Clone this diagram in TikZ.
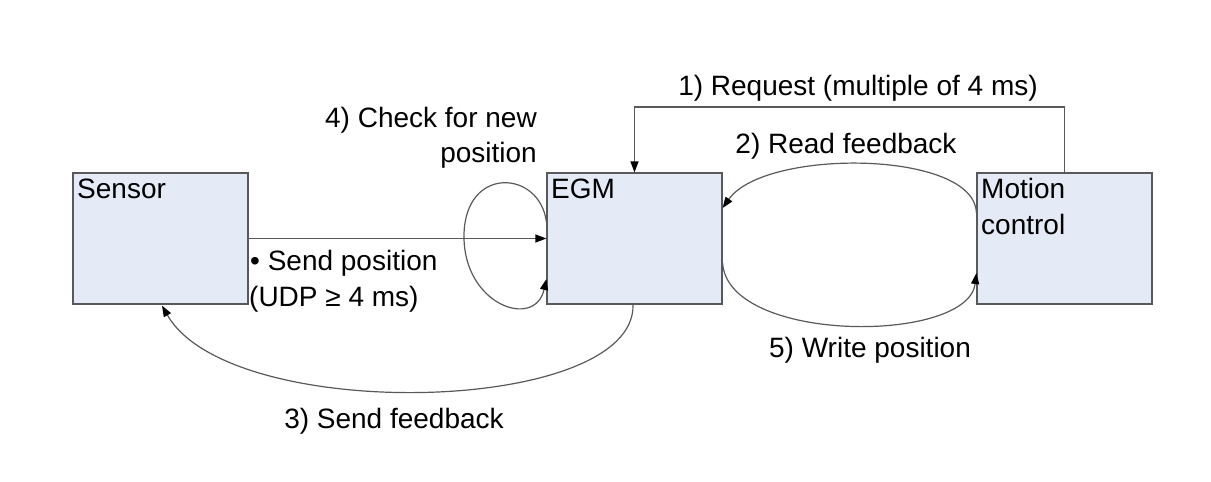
\documentclass[tikz,border=0pt]{standalone}
\usepackage{fontspec}
\setmainfont{Liberation Sans}
\usetikzlibrary{arrows.meta,calc}
\begin{document}
\begin{tikzpicture}[x=1pt,y=-1pt,
  box/.style={draw=black!65,line width=1.2pt,fill=boxfill,minimum width=175pt,minimum height=131pt,inner sep=0pt},
  conn/.style={draw=black!65,line width=1.2pt,-{Triangle[length=11pt,width=8pt,color=black,fill=black]}},
  lbl/.style={font=\fontsize{28}{36}\selectfont,inner sep=0pt,text=black}]
\definecolor{boxfill}{RGB}{228,235,246}
\useasboundingbox (0,0) rectangle (1211,482);
\node[box] (sensor) at (160.5,238.5) {};
\node[box] (egm) at (634.5,238.5) {};
\node[box] (mc) at (1064.5,238.5) {};
\node[lbl,anchor=base west] (tsensor) at (77,198) {Sensor};
\node[lbl,anchor=base west] (tegm) at (551,198) {EGM};
\node[lbl,anchor=base west] (tmc1) at (981,198) {Motion};
\node[lbl,anchor=base west] (tmc2) at (981,234) {control};
% 1) request
\coordinate (rq) at (0,107);
\draw[conn] (mc.north) -- (mc.north |- rq) -| (egm.north);
\node[lbl,anchor=base] (l1) at (858,95) {1) Request (multiple of 4 ms)};
% 2) read feedback
\draw[conn] ([yshift=25.5pt]mc.west) .. controls (975,150) and (765,148) .. ([yshift=30.5pt]egm.east);
\node[lbl,anchor=base] (l2) at (846,153) {2) Read feedback};
% 5) write position
\draw[conn] ([yshift=-24.5pt]egm.east) .. controls (728,344) and (968,344) .. ([yshift=-34.5pt]mc.west);
\node[lbl,anchor=base] (l5) at (870,357) {5) Write position};
% 3) send feedback
\draw[conn] ([xshift=-1.5pt]egm.south) .. controls (636,415) and (230,425) .. ([xshift=1.5pt,yshift=-1pt]sensor.south);
\node[lbl,anchor=base] (l3) at (394,428) {3) Send feedback};
% send position
\draw[conn] (sensor.east) -- (egm.west);
\node[lbl,anchor=base west] (lsp1) at (250,270) {\textbullet\ Send position};
\node[lbl,anchor=base west] (lsp2) at (249,306) {(UDP ≥ 4 ms)};
% 4) check loop
\draw[conn] ([yshift=16.5pt]egm.west) .. controls (540,170) and (465,165) .. (464,235) .. controls (463,305) and (535,330) .. ([yshift=-40.5pt]egm.west);
\node[lbl,anchor=base east] (l4a) at (537,127) {4) Check for new};
\node[lbl,anchor=base east] (l4b) at (537,162) {position};
\end{tikzpicture}
\end{document}
